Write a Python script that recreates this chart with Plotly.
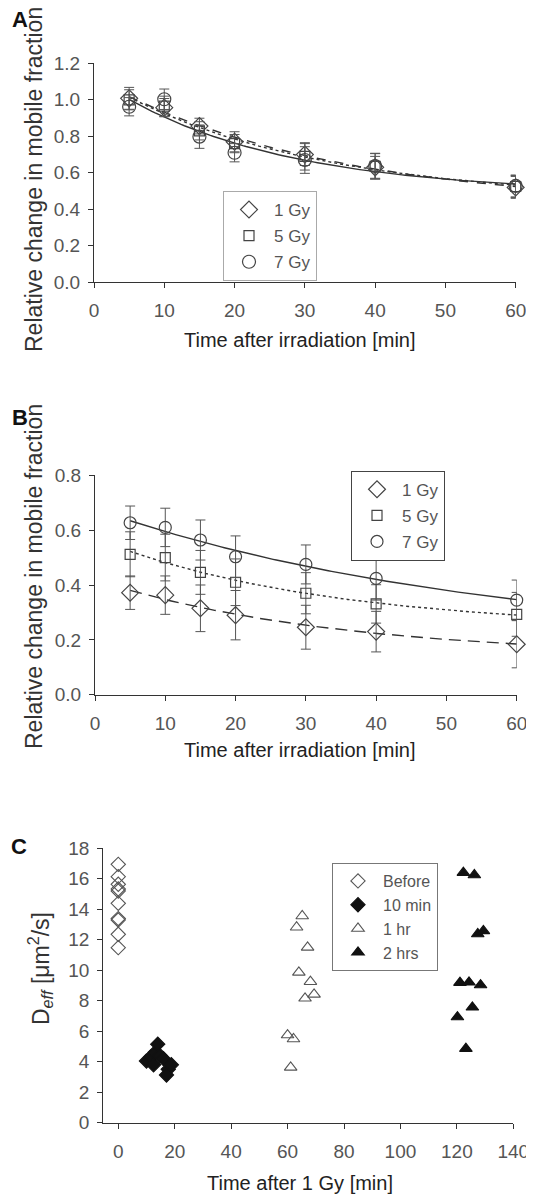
import numpy as np
import plotly.graph_objects as go

# ---------------- Panel A data ----------------
a_time = [5, 10, 15, 20, 30, 40, 60]
a_1gy = [1.008, 0.957, 0.856, 0.770, 0.700, 0.630, 0.520]
a_1gy_err = [0.060, 0.050, 0.043, 0.055, 0.060, 0.060, 0.060]
a_5gy = [1.000, 0.965, 0.830, 0.760, 0.690, 0.635, 0.525]
a_5gy_err = [0.055, 0.055, 0.050, 0.050, 0.075, 0.070, 0.060]
a_7gy = [0.962, 1.003, 0.798, 0.710, 0.670, 0.637, 0.528]
a_7gy_err = [0.050, 0.056, 0.064, 0.050, 0.073, 0.070, 0.060]

# ---------------- Panel B data ----------------
b_time = [5, 10, 15, 20, 30, 40, 60]
b_1gy = [0.372, 0.363, 0.315, 0.290, 0.246, 0.230, 0.184]
b_1gy_err = [0.061, 0.070, 0.085, 0.090, 0.080, 0.074, 0.086]
b_5gy = [0.512, 0.500, 0.446, 0.410, 0.370, 0.331, 0.293]
b_5gy_err = [0.082, 0.085, 0.080, 0.085, 0.075, 0.070, 0.080]
b_7gy = [0.627, 0.610, 0.564, 0.503, 0.475, 0.424, 0.345]
b_7gy_err = [0.061, 0.070, 0.073, 0.076, 0.071, 0.079, 0.073]

# ---------------- Panel C data ----------------
c_before_x = [0, 0, 0, 0, 0, 0, 0, 0, 0, 0]
c_before_y = [16.95, 16.14, 15.64, 15.33, 15.20, 14.39, 13.39, 13.30, 12.36, 11.48]
c_10min_x = [10.0, 11.5, 12.5, 13.0, 14.0, 14.8, 16.0, 17.7, 17.1, 18.8]
c_10min_y = [4.05, 4.30, 3.80, 4.60, 5.15, 4.40, 4.20, 3.50, 3.13, 3.80]
c_1hr_x = [65.2, 63.2, 67.1, 64.0, 68.1, 66.2, 69.4, 60.0, 62.1, 61.1]
c_1hr_y = [13.56, 12.82, 11.50, 9.86, 9.25, 8.16, 8.42, 5.75, 5.49, 3.63]
c_2hr_x = [122.3, 126.2, 127.4, 129.4, 121.1, 124.3, 128.4, 125.5, 120.2, 123.2]
c_2hr_y = [16.40, 16.25, 12.38, 12.58, 9.19, 9.21, 9.03, 7.57, 6.93, 4.86]

FAM = "Liberation Sans, Arial, sans-serif"
TICK_FONT = dict(family=FAM, size=19, color="#555555")
TITLE_FONT = dict(family=FAM, size=20, color="#222222")
YTITLE_FONT = dict(family=FAM, size=23, color="#333333")
LEG_FONT = dict(family=FAM, size=17, color="#555555")
LEG_FONT_C = dict(family=FAM, size=16, color="#555555")
MK = "#444444"

# the page body has an 8px margin: figure is placed at (8, 8) in the window
OFF = 8
W, H = 534 - OFF, 1199 - OFF


def exp_fit(t, y):
    """Least-squares fit y = c + a*exp(-k t) (grid over k, linear in a, c)."""
    t = np.asarray(t, float)
    y = np.asarray(y, float)
    best = None
    for k in np.linspace(0.002, 0.2, 600):
        A = np.column_stack([np.exp(-k * t), np.ones_like(t)])
        coef, *_ = np.linalg.lstsq(A, y, rcond=None)
        sse = float(np.sum((A @ coef - y) ** 2))
        if best is None or sse < best[0]:
            best = (sse, k, coef)
    _, k, (a, c) = best
    tt = np.linspace(t.min(), t.max(), 120)
    return tt, c + a * np.exp(-k * tt)


fig = go.Figure()


def add_panel(xa, ya, t, series, legend):
    for name, vals, err, sym, size, dash in series:
        tt, yy = exp_fit(t, vals)
        fig.add_trace(go.Scatter(
            x=tt, y=yy, mode="lines", xaxis=xa, yaxis=ya, showlegend=False,
            line=dict(color="#333333", width=1.4, dash=dash), hoverinfo="skip"))
    for name, vals, err, sym, size, dash in series:
        fig.add_trace(go.Scatter(
            x=t, y=vals, mode="markers", name=name, xaxis=xa, yaxis=ya,
            legend=legend, legendgroup=legend + name, cliponaxis=False,
            marker=dict(symbol=sym, size=size, color=MK, line=dict(color=MK, width=1.2)),
            error_y=dict(type="data", array=err, visible=True, color="#555555",
                         thickness=1, width=5)))


add_panel("x", "y", a_time, [
    ("1 Gy", a_1gy, a_1gy_err, "diamond-open", 13, "dash"),
    ("5 Gy", a_5gy, a_5gy_err, "square-open", 10, "dot"),
    ("7 Gy", a_7gy, a_7gy_err, "circle-open", 13, "solid"),
], "legend")

add_panel("x2", "y2", b_time, [
    ("1 Gy", b_1gy, b_1gy_err, "diamond-open", 13, "12px,7px"),
    ("5 Gy", b_5gy, b_5gy_err, "square-open", 10, "dot"),
    ("7 Gy", b_7gy, b_7gy_err, "circle-open", 12, "solid"),
], "legend2")

c_series = [
    ("Before", c_before_x, c_before_y, "diamond-open", 11, "#555555"),
    ("10 min", c_10min_x, c_10min_y, "diamond", 11, "#111111"),
    ("1 hr", c_1hr_x, c_1hr_y, "triangle-up-open", 11, "#555555"),
    ("2 hrs", c_2hr_x, c_2hr_y, "triangle-up", 11, "#111111"),
]
for name, xs, ys, sym, size, col in c_series:
    fig.add_trace(go.Scatter(
        x=xs, y=ys, mode="markers", name=name, xaxis="x3", yaxis="y3",
        legend="legend3", legendgroup="c" + name, cliponaxis=False,
        marker=dict(symbol=sym, size=size, color=col, line=dict(color=col, width=1.1))))


def px_x(v):
    return (v - OFF) / W


def px_y(v):
    return 1 - (v - OFF) / H


axis_common = dict(showline=True, linecolor="#333333", linewidth=1.2, ticks="outside",
                   ticklen=5, tickcolor="#333333", tickfont=TICK_FONT, showgrid=False,
                   zeroline=False, mirror=False, automargin=False)
xstand = dict(ticklabelstandoff=6)
ystand = dict(ticklabelstandoff=4)
leg_common = dict(xanchor="left", yanchor="top", borderwidth=1, bgcolor="white",
                  traceorder="grouped", itemwidth=40)

fig.update_layout(
    width=W, height=H, margin=dict(l=0, r=0, t=0, b=0, pad=0, autoexpand=False),
    paper_bgcolor="white", plot_bgcolor="white", showlegend=True,
    xaxis=dict(axis_common, **xstand, domain=[px_x(94), px_x(515.7)], range=[0, 60],
               tickvals=[0, 10, 20, 30, 40, 50, 60], anchor="y"),
    yaxis=dict(axis_common, **ystand, domain=[px_y(282.3), px_y(63.3)], range=[0, 1.2],
               tickvals=[0, 0.2, 0.4, 0.6, 0.8, 1.0, 1.2], tickformat=".1f", anchor="x"),
    xaxis2=dict(axis_common, **xstand, domain=[px_x(95), px_x(516.7)], range=[0, 60],
                tickvals=[0, 10, 20, 30, 40, 50, 60], anchor="y2"),
    yaxis2=dict(axis_common, **ystand, domain=[px_y(694.7), px_y(475.3)], range=[0, 0.8],
                tickvals=[0, 0.2, 0.4, 0.6, 0.8], tickformat=".1f", anchor="x2"),
    xaxis3=dict(axis_common, **xstand, domain=[px_x(103.3), px_x(513.3)], range=[-5.3, 140],
                tickvals=[0, 20, 40, 60, 80, 100, 120, 140], anchor="y3"),
    yaxis3=dict(axis_common, **ystand, domain=[px_y(1122.7), px_y(848.3)], range=[0, 18],
                tickvals=list(range(0, 19, 2)), anchor="x3"),
    legend=dict(leg_common, x=px_x(223), y=px_y(191), bordercolor="#aaaaaa",
                font=LEG_FONT, tracegroupgap=1, entrywidth=108),
    legend2=dict(leg_common, x=px_x(351), y=px_y(470.7), bordercolor="#444444",
                 font=LEG_FONT, tracegroupgap=1, entrywidth=115),
    legend3=dict(leg_common, x=px_x(332), y=px_y(863), bordercolor="#777777",
                 font=LEG_FONT_C, tracegroupgap=0, entrywidth=108),
)

annots = [
    # panel letters
    dict(text="<b>A</b>", x=px_x(10), y=px_y(19), xanchor="left", yanchor="middle",
         font=dict(family=FAM, size=22, color="#111111")),
    dict(text="<b>B</b>", x=px_x(10), y=px_y(418), xanchor="left", yanchor="middle",
         font=dict(family=FAM, size=22, color="#111111")),
    dict(text="<b>C</b>", x=px_x(8.5), y=px_y(846), xanchor="left", yanchor="middle",
         font=dict(family=FAM, size=22, color="#111111")),
    # y titles
    dict(text="Relative change in mobile fraction", x=px_x(34), y=px_y(180),
         textangle=-90, xanchor="center", yanchor="middle", font=YTITLE_FONT),
    dict(text="Relative change in mobile fraction", x=px_x(34), y=px_y(577),
         textangle=-90, xanchor="center", yanchor="middle", font=YTITLE_FONT),
    dict(text="D<sub><i>eff</i></sub> [\u03bcm<sup>2</sup>/s]", x=px_x(40), y=px_y(969),
         textangle=-90, xanchor="center", yanchor="middle", font=YTITLE_FONT),
    # x titles
    dict(text="Time after irradiation [min]", x=px_x(300), y=px_y(340),
         xanchor="center", yanchor="middle", font=TITLE_FONT),
    dict(text="Time after irradiation [min]", x=px_x(300), y=px_y(750),
         xanchor="center", yanchor="middle", font=TITLE_FONT),
    dict(text="Time after 1 Gy [min]", x=px_x(300), y=px_y(1183),
         xanchor="center", yanchor="middle", font=TITLE_FONT),
]
for a in annots:
    a.update(xref="paper", yref="paper", showarrow=False)
fig.update_layout(annotations=annots)

fig.write_html("out.html")
